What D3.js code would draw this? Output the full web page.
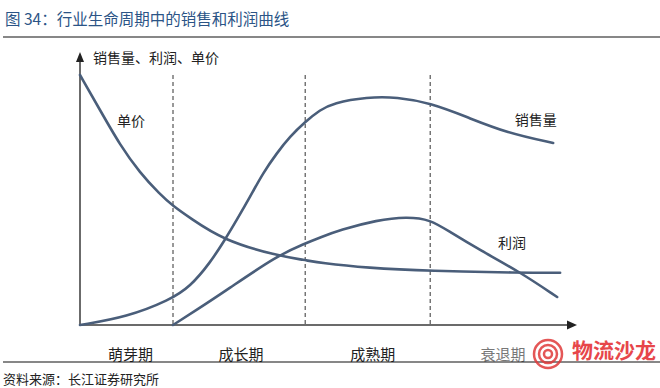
<!DOCTYPE html>
<html><head><meta charset="utf-8">
<script src="https://cdn.jsdelivr.net/npm/d3@7"></script>
<style>body{margin:0;background:#fff}svg{display:block}text{font-family:"Noto Sans CJK SC","Noto Sans",sans-serif}</style>
</head><body><svg id="c" width="660" height="388"></svg>
<script>
const title = "图 34：行业生命周期中的销售和利润曲线";
const source = "资料来源：长江证券研究所";
const yAxisTitle = "销售量、利润、单价";
const stages = ["萌芽期", "成长期", "成熟期", "衰退期"];
const stageBounds = [0, 18.75, 45.4, 70.6, 100];
const priceX = [0, 4.03, 8.06, 12.1, 16.1, 18.75, 22.2, 28.8, 39.7, 45.4, 48.4, 57.9, 70.6, 88.7, 96.8];
const priceY = [100, 86, 72, 60.8, 52.3, 47.6, 42.8, 34, 27.7, 26, 24.8, 22.8, 21.6, 20.9, 20.9];
const salesX = [0, 9.48, 18.1, 22.2, 26.2, 29.2, 31.6, 34.3, 36.9, 39.7, 42.3, 45.4, 48.4, 51, 57.9, 63.9, 70.6, 78, 86.1, 95.4];
const salesY = [0, 3.2, 10, 15.3, 24.8, 34, 42, 51.3, 60.8, 68.8, 75.3, 81.3, 86, 88.8, 91.2, 91.2, 88.8, 83.2, 76.8, 72.8];
const profitX = [18.75, 23.5, 29.6, 39.7, 45.4, 48.4, 52.4, 59.9, 65.9, 70.6, 74.6, 80.6, 88.7, 96.2];
const profitY = [0, 6, 14, 27.7, 32.6, 35, 38, 42, 43.3, 42.2, 37.2, 30, 21.2, 11.2];
const seriesLabels = [
  {name: "单价", x: 10.3, y: 82},
  {name: "销售量", x: 91.9, y: 82.4},
  {name: "利润", x: 87.1, y: 33.2}
];

const svg = d3.select("#c");
const x = d3.scaleLinear().domain([0, 100]).range([80, 576]);
const y = d3.scaleLinear().domain([0, 100]).range([325, 75]);
const curveColor = "#4a5e7a";

// title
svg.append("text").attr("x", 5).attr("y", 25).attr("font-size", 15.5).attr("fill", "#2b5486").text(title);
svg.append("line").attr("x1", 3).attr("x2", 660).attr("y1", 37).attr("y2", 37).attr("stroke", "#111").attr("stroke-width", 1.2);

// dashed stage lines
svg.selectAll("line.stage").data(stageBounds.slice(1, 4)).join("line")
  .attr("x1", d => x(d)).attr("x2", d => x(d)).attr("y1", y(100)).attr("y2", y(0))
  .attr("stroke", "#333").attr("stroke-width", 1).attr("stroke-dasharray", "4,3");

// axes
const axisColor = "#6b6b6b";
svg.append("line").attr("x1", x(0)).attr("x2", x(0)).attr("y1", y(0)).attr("y2", 60).attr("stroke", axisColor).attr("stroke-width", 2);
svg.append("line").attr("x1", x(0)).attr("x2", 568).attr("y1", y(0)).attr("y2", y(0)).attr("stroke", axisColor).attr("stroke-width", 2);
svg.append("path").attr("d", `M${x(0)-4},62 L${x(0)},52 L${x(0)+4},62 Z`).attr("fill", "#222");
svg.append("path").attr("d", `M567,${y(0)-4.5} L577,${y(0)} L567,${y(0)+4.5} Z`).attr("fill", "#222");

svg.append("text").attr("x", 93).attr("y", 63).attr("font-size", 14).attr("fill", "#222").text(yAxisTitle);

// curves
const line = d3.line().x(d => x(d[0])).y(d => y(d[1])).curve(d3.curveBasis);
const zip = (a, b) => a.map((v, i) => [v, b[i]]);
[zip(priceX, priceY), zip(salesX, salesY), zip(profitX, profitY)].forEach(pts => {
  svg.append("path").attr("d", line(pts)).attr("fill", "none").attr("stroke", curveColor)
    .attr("stroke-width", 2.6).attr("stroke-linecap", "round");
});

svg.selectAll("text.sl").data(seriesLabels).join("text")
  .attr("x", d => x(d.x)).attr("y", d => y(d.y)).attr("font-size", 14).attr("fill", "#222")
  .attr("text-anchor", "middle").attr("dominant-baseline", "central").text(d => d.name);

// stage labels
svg.selectAll("text.st").data(stages).join("text")
  .attr("x", (d, i) => x((stageBounds[i] + stageBounds[i + 1]) / 2) + [4, 2, 5, 0][i])
  .attr("y", 353).attr("font-size", 15).attr("fill", (d, i) => i === 3 ? "#777" : "#222")
  .attr("text-anchor", "middle").attr("dominant-baseline", "central").text(d => d);

svg.append("line").attr("x1", 3).attr("x2", 660).attr("y1", 362).attr("y2", 362).attr("stroke", "#111").attr("stroke-width", 1.2);
svg.append("text").attr("x", 3).attr("y", 384).attr("font-size", 13).attr("fill", "#222").text(source);

// watermark
const wm = svg.append("g").attr("opacity", 0.85);
[14, 9, 4].forEach(r => wm.append("circle").attr("cx", 548).attr("cy", 354).attr("r", r).attr("fill", "none").attr("stroke", "#e03a3a").attr("stroke-width", 2.5));
wm.append("text").attr("x", 572).attr("y", 358).attr("font-size", 21).attr("font-weight", "bold").attr("fill", "#e3262b").text("物流沙龙");
</script></body></html>
